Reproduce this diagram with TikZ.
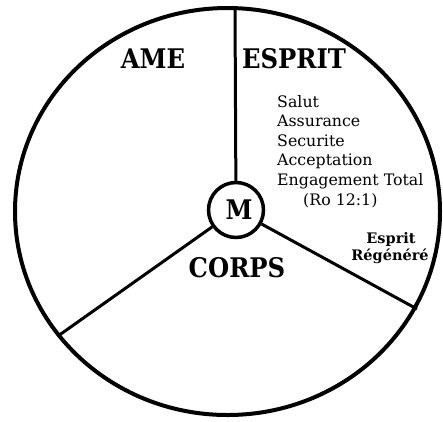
\documentclass[tikz,border=0pt]{standalone}
\usepackage{fontspec}
\setmainfont{DejaVu Serif}
\newfontfamily\headfont{DejaVu Serif}[FakeStretch=0.9]
\tikzset{
  head/.style={font=\headfont\fontsize{27}{30}\selectfont\bfseries, inner sep=0pt, anchor=base},
  listtext/.style={font=\fontsize{15.8}{18}\selectfont, inner sep=0pt, anchor=base west},
  subtext/.style={font=\fontsize{14.5}{18}\selectfont\bfseries, inner sep=0pt, anchor=base},
  spoke/.style={line width=3pt}
}
\begin{document}
\begin{tikzpicture}[x=1pt, y=-1pt]
% picture in pixel units, y going down
\useasboundingbox (0,0) rectangle (443,421);
\def\cx{227.5}
\def\cy{211.5}

% --- outer wheel ---
\draw[line width=4pt] (\cx,\cy) ellipse [x radius=212.5, y radius=203.5];

% --- centre and spokes ---
\node[draw, circle, line width=3.5pt, minimum size=55pt, inner sep=0pt] (m) at (236,210) {};
\node[head] (mlabel) at (239,219) {M};
\coordinate (top) at (235,8);
\coordinate (lowleft) at (58,336);
\coordinate (lowright) at (417,309);
\draw[spoke] (m) -- (top);
\draw[spoke] (m) -- (lowleft);
\draw[spoke] (m) -- (lowright);

% --- section titles ---
\node[head] (ame) at (153,68) {AME};
\node[head] (esprit) at (294,68) {ESPRIT};
\node[head] (corps) at (237,277) {CORPS};

% --- list in the ESPRIT part ---
\foreach \t [count=\i] in {Salut, Assurance, Securite, Acceptation, Engagement Total}
  \node[listtext] (l\i) at (277,{107+19.6*(\i-1)}) {\t};
\node[listtext] (ref) at (303,205) {(Ro 12:1)};

\node[subtext] (sub1) at (391,243) {Esprit};
\node[subtext] (sub2) at (390,260) {Régénéré};
\end{tikzpicture}
\end{document}
